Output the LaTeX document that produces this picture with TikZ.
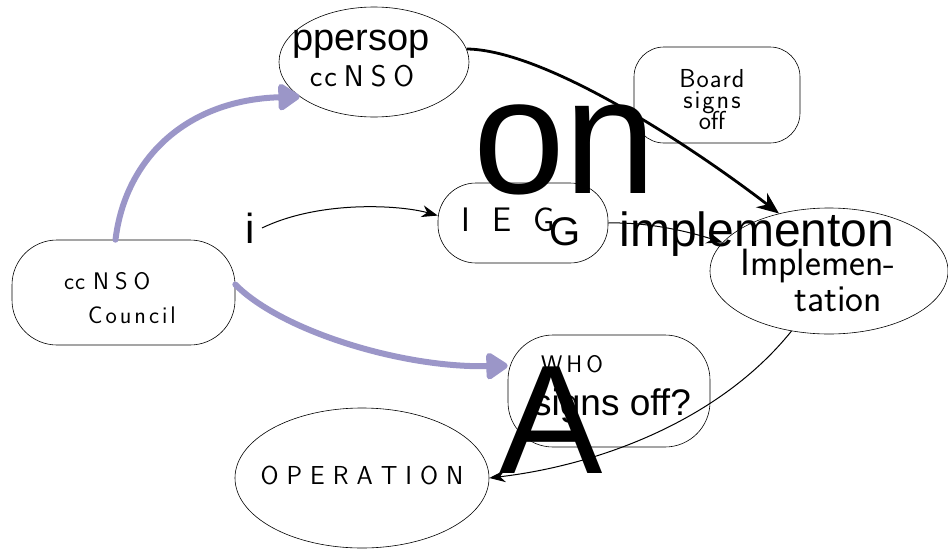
\documentclass[tikz,border=0pt]{standalone}
\usepackage{fontspec}
\newfontfamily\ov{Liberation Sans}
\usetikzlibrary{arrows.meta,shapes.geometric}
\definecolor{lav}{RGB}{155,150,200}
\tikzset{
  ell/.style={draw, ellipse, line width=0.6pt, inner sep=0pt},
  rbox/.style={draw, rectangle, line width=0.6pt, inner sep=0pt},
  purp/.style={draw=lav, line width=6pt, line cap=round, -{Triangle[length=24pt,width=30pt,round]}},
  thick arrow/.style={line width=2.8pt, -{Stealth[length=22pt,width=18pt]}},
  thin arrow/.style={line width=1pt, -{Stealth[length=16pt,width=12pt]}},
  hw/.style={inner sep=0pt, align=center},
  ovt/.style={inner sep=0pt, anchor=base}
}
\newcommand{\hwf}[1]{\sffamily\fontsize{#1}{#1}\selectfont}
\newcommand{\gp}[1]{\hspace{#1pt}}
\begin{document}
\begin{tikzpicture}[x=1pt,y=-1pt]
\useasboundingbox (0,0) rectangle (948,549);
% shapes
\node[ell, minimum width=190pt, minimum height=110pt] (top) at (374,62) {};
\node[rbox, rounded corners=30pt, minimum width=166pt, minimum height=96pt] (board) at (717,95) {};
\node[rbox, rounded corners=45pt, minimum width=223pt, minimum height=105pt] (council) at (123.5,292.5) {};
\node[rbox, rounded corners=38pt, minimum width=170pt, minimum height=80pt] (ieg) at (523,223) {};
\node[ell, minimum width=238pt, minimum height=126pt] (impl) at (829,271) {};
\node[rbox, rounded corners=45pt, minimum width=202pt, minimum height=112pt] (who) at (609,391) {};
\node[ell, minimum width=254pt, minimum height=140pt] (op) at (362,478) {};
% handwritten labels
\node[hw, font=\hwf{30}] (tl) at (362,76) {c\gp{2}c\gp{7}N\gp{7}S\gp{7}O};
\node[hw, font=\hwf{26}] (bl) at (712,100) {B\gp{1}o\gp{1}a\gp{1}r\gp{1}d\\[-5pt]s\gp{2}i\gp{2}g\gp{2}n\gp{2}s\\[-5pt]off};
\node[hw, align=left, font=\hwf{24}] (cl) at (120,298) {c\gp{1}c\gp{8}N\gp{6}S\gp{6}O\\[10pt]\hspace*{24pt}C\gp{3}o\gp{3}u\gp{3}n\gp{3}c\gp{3}i\gp{3}l};
\node[hw, font=\hwf{34}] (il) at (508,220) {I\hspace{22pt}E\hspace{22pt}G};
\node[hw, font=\hwf{38}] (iml) at (818,280) {Implemen-\\[-2pt]\hspace*{40pt}tation};
\node[hw, font=\hwf{24}] (wl) at (572,364) {W\gp{4}H\gp{4}O};
\node[hw, font=\hwf{26}] (ol) at (362,475) {O\gp{8}P\gp{8}E\gp{8}R\gp{8}A\gp{8}T\gp{8}I\gp{8}O\gp{8}N};
% connectors
\draw[purp] ([xshift=-8pt]council.north) .. controls (125,160) and (185,100) .. (top.205);
\draw[purp] ([yshift=8pt]council.east) .. controls (280,330) and (400,368) .. (who.166);
\draw[thick arrow] (top.8) .. controls (545,50) and (690,145) .. (impl.131);
\draw[thin arrow] (262,228) .. controls (320,200) and (400,205) .. (ieg.175);
\draw[thin arrow] (ieg.east) .. controls (650,222) and (690,232) .. (impl.165);
\draw[thin arrow] (impl.238) .. controls (720,420) and (600,465) .. (op.east);
% overlaid recognised text
\node[ovt, font=\ov\fontsize{38}{38}\selectfont] (t1) at (361,50) {ppersop};
\node[ovt, font=\ov\fontsize{165}{165}\selectfont] (t2) at (565,193) {on};
\node[ovt, font=\ov\fontsize{42}{42}\selectfont] (t3) at (250,243) {i};
\node[ovt, font=\ov\fontsize{40}{40}\selectfont] (t4) at (565,245) {G};
\node[ovt, font=\ov\fontsize{48}{48}\selectfont] (t5) at (757,246) {implementon};
\node[ovt, font=\ov\fontsize{37}{37}\selectfont] (t6) at (612,415) {signs off?};
\node[ovt, font=\ov\fontsize{155}{155}\selectfont] (t7) at (551,473) {A};
\end{tikzpicture}
\end{document}
